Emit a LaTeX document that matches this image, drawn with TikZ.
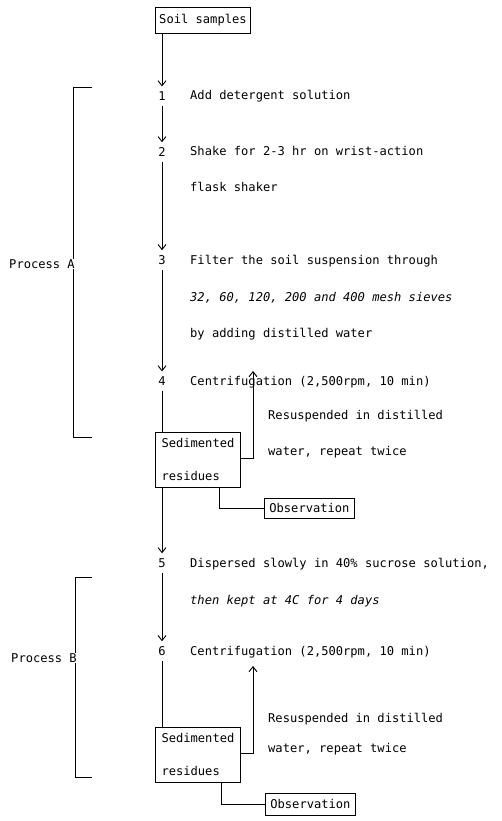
\documentclass[tikz,border=0pt]{standalone}
\usepackage{fontspec}
\setmonofont{DejaVu Sans Mono}
\usetikzlibrary{arrows.meta}
\begin{document}
\begin{tikzpicture}[x=1pt,y=-1pt,
  every node/.style={font=\fontsize{12.1}{33}\selectfont\ttfamily, inner sep=0pt},
  arr/.style={-{Straight Barb[length=5pt,width=8pt]}, line width=0.9pt},
  ln/.style={line width=0.9pt},
  num/.style={anchor=center, inner ysep=5pt},
  txt/.style={anchor=base west},
  boxed/.style={draw, line width=0.9pt, inner xsep=3pt},
  sedbox/.style={draw, line width=0.9pt, align=left, anchor=north west, inner xsep=3pt, inner ysep=5pt, minimum width=85pt, minimum height=55pt}
]
\useasboundingbox (0,0) rectangle (501,821);

% top
\node[boxed, minimum height=26pt, minimum width=95pt, anchor=north west] (soil) at (155,7) {Soil samples};

% step numbers
\node[num] (n1) at (162,96) {1};
\node[num] (n2) at (162,152) {2};
\node[num] (n3) at (162,260) {3};
\node[num] (n4) at (162,381) {4};
\node[num] (n5) at (162,563) {5};
\node[num] (n6) at (162,651) {6};

% step texts
\node[txt] (t1) at (190,100) {Add detergent solution};
\node[txt] (t2a) at (190,156) {Shake for 2-3 hr on wrist-action};
\node[txt] (t2b) at (190,192) {flask shaker};
\node[txt] (t3a) at (190,264) {Filter the soil suspension through};
\node[txt] (t3b) at (190,301) {\itshape 32, 60, 120, 200 and 400 mesh sieves};
\node[txt] (t3c) at (190,337) {by adding distilled water};
\node[txt] (t4) at (190,385) {Centrifugation (2,500rpm, 10 min)};
\node[txt] (r1a) at (268,419) {Resuspended in distilled};
\node[txt] (r1b) at (268,455) {water, repeat twice};
\node[txt] (t5a) at (190,567) {Dispersed slowly in 40\% sucrose solution,};
\node[txt] (t5b) at (190,604) {\itshape then kept at 4C for 4 days};
\node[txt] (t6) at (190,655) {Centrifugation (2,500rpm, 10 min)};
\node[txt] (r2a) at (268,722) {Resuspended in distilled};
\node[txt] (r2b) at (268,752) {water, repeat twice};

% sediment boxes
\node[sedbox] (sed1) at (155,432) {Sedimented\\residues};
\node[sedbox] (sed2) at (155,727) {Sedimented\\residues};

% observation boxes
\node[boxed, minimum height=20pt, minimum width=90pt, anchor=west] (obs1) at (264,508) {Observation};
\node[boxed, minimum height=22pt, minimum width=90pt, anchor=west] (obs2) at (265,804) {Observation};

% process labels
\node[anchor=center] (pa) at (42,264) {Process A};
\node[anchor=center] (pb) at (44,658) {Process B};

% main flow
\draw[arr] (soil.south -| n1) -- (n1.north);
\draw[arr] (n1.south) -- (n2.north);
\draw[arr] (n2.south) -- (n3.north);
\draw[arr] (n3.south) -- (n4.north);
\draw[ln] (n4.south) -- (sed1.north -| n4);
\draw[arr] (sed1.south -| n5) -- (n5.north);
\draw[arr] (n5.south) -- (n6.north);
\draw[ln] (n6.south) -- (sed2.north -| n6);

% recirculation
\coordinate (u1) at (253,371);
\coordinate (u2) at (253,666);
\draw[arr] (sed1.east |- 0,458) -- (u1 |- 0,458) -- (u1);
\draw[arr] (sed2.east |- 0,753) -- (u2 |- 0,753) -- (u2);

% observation
\draw[ln] (sed1.south -| 219,0) |- (obs1.west);
\draw[ln] (sed2.south -| 221,0) |- (obs2.west);

% brackets
\coordinate (a0) at (73,87);
\coordinate (a1) at (73,437);
\draw[ln] (92,87) -- (a0) -- (pa.north -| a0);
\draw[ln] (pa.south -| a1) -- (a1) -- (92,437);
\coordinate (b0) at (75,577);
\coordinate (b1) at (75,777);
\draw[ln] (92,577) -- (b0) -- (pb.north -| b0);
\draw[ln] (pb.south -| b1) -- (b1) -- (92,777);
\end{tikzpicture}
\end{document}
